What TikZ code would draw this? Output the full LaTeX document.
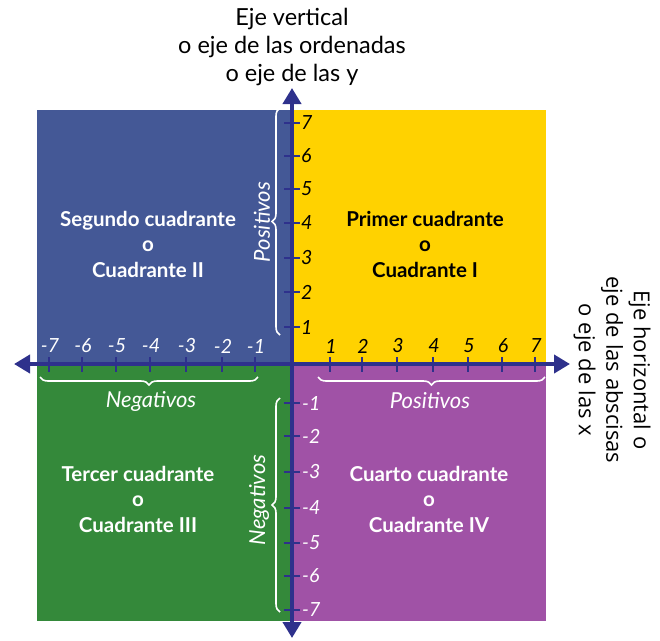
\documentclass[tikz,border=0pt]{standalone}
\usepackage{fontspec}
\setmainfont{Lato}
\newfontfamily\sidefont{Open Sans}
\usetikzlibrary{arrows.meta,decorations.pathreplacing}
\definecolor{qblue}{RGB}{68,88,150}
\definecolor{qyellow}{RGB}{255,210,0}
\definecolor{qgreen}{RGB}{52,137,58}
\definecolor{qpurple}{RGB}{160,82,166}
\definecolor{axisc}{RGB}{46,49,140}
\tikzset{
  quadtext/.style={align=center,font=\fontsize{20.5}{25.5}\selectfont\bfseries},
  num/.style={font=\fontsize{19.5}{20}\selectfont\itshape,inner sep=0pt},
  bracelbl/.style={font=\fontsize{22}{22}\selectfont\itshape,text=white,inner sep=0pt},
  bracedeco/.style={draw=white,line width=1.6pt,decorate,decoration={brace,amplitude=8pt}},
  tickline/.style={draw=axisc,line width=2.5pt},
  axisline/.style={draw=axisc,line width=4.5pt,{Triangle[length=16pt,width=18pt]}-{Triangle[length=16pt,width=18pt]}},
  title/.style={align=center,font=\fontsize{23.5}{28}\selectfont},
  sidetitle/.style={align=center,font=\sidefont\fontsize{22}{27.5}\selectfont}
}
\begin{document}
\begin{tikzpicture}[x=1pt,y=-1pt]
\useasboundingbox (0,0) rectangle (660,640);
% quadrants
\fill[qblue] (37,110) rectangle (292,364);
\fill[qyellow] (292,110) rectangle (546,364);
\fill[qgreen] (37,364) rectangle (292,621);
\fill[qpurple] (292,364) rectangle (546,621);
% quadrant texts
\node[quadtext,text=white] (q2) at (148,244) {Segundo cuadrante\\o\\Cuadrante II};
\node[quadtext,text=black] (q1) at (425,244) {Primer cuadrante\\o\\Cuadrante I};
\node[quadtext,text=white] (q3) at (138,499) {Tercer cuadrante\\o\\Cuadrante III};
\node[quadtext,text=white] (q4) at (429,499) {Cuarto cuadrante\\o\\Cuadrante IV};
% ticks
\foreach \x/\l in {49/-7,82/-6,116/-5,150/-4,186/-3,222/-2,255/-1}{
  \draw[tickline] (\x,357) -- (\x,372);
  \node[num,text=white] at (\x+1,346) {\l};
}
\foreach \x/\l in {330/1,362/2,397/3,433/4,468/5,502/6,535/7}{
  \draw[tickline] (\x,357) -- (\x,372);
  \node[num,text=black] at (\x+1,346) {\l};
}
\foreach \y/\l in {123/7,156/6,189/5,223/4,258/3,292/2,327/1}{
  \draw[tickline] (284,\y) -- (300,\y);
  \node[num,text=black,anchor=west] at (301,\y) {\l};
}
\foreach \y/\l in {403/-1,436/-2,472/-3,508/-4,543/-5,576/-6,610/-7}{
  \draw[tickline] (284,\y) -- (300,\y);
  \node[num,text=white,anchor=west] at (302,\y) {\l};
}
% axes
\draw[axisline] (292,638) -- (292,88);
\draw[axisline] (14,364) -- (570,364);
% braces
\draw[bracedeco] (280,335) -- (280,108);
\node[bracelbl,rotate=90] (posy) at (262,222) {Positivos};
\draw[bracedeco] (280,612) -- (280,398);
\node[bracelbl,rotate=90] (negy) at (259,500) {Negativos};
\draw[bracedeco] (258,377) -- (40,377);
\node[bracelbl] (negx) at (151,401) {Negativos};
\draw[bracedeco] (545,377) -- (318,377);
\node[bracelbl] (posx) at (430,401) {Positivos};
% titles
\node[title] (ylbl) at (292,47) {Eje vertical\\o eje de las ordenadas\\o eje de las y};
\node[sidetitle,rotate=-90] (xlbl) at (612,370) {Eje horizontal o\\eje de las abscisas\\o eje de las x};
\end{tikzpicture}
\end{document}
